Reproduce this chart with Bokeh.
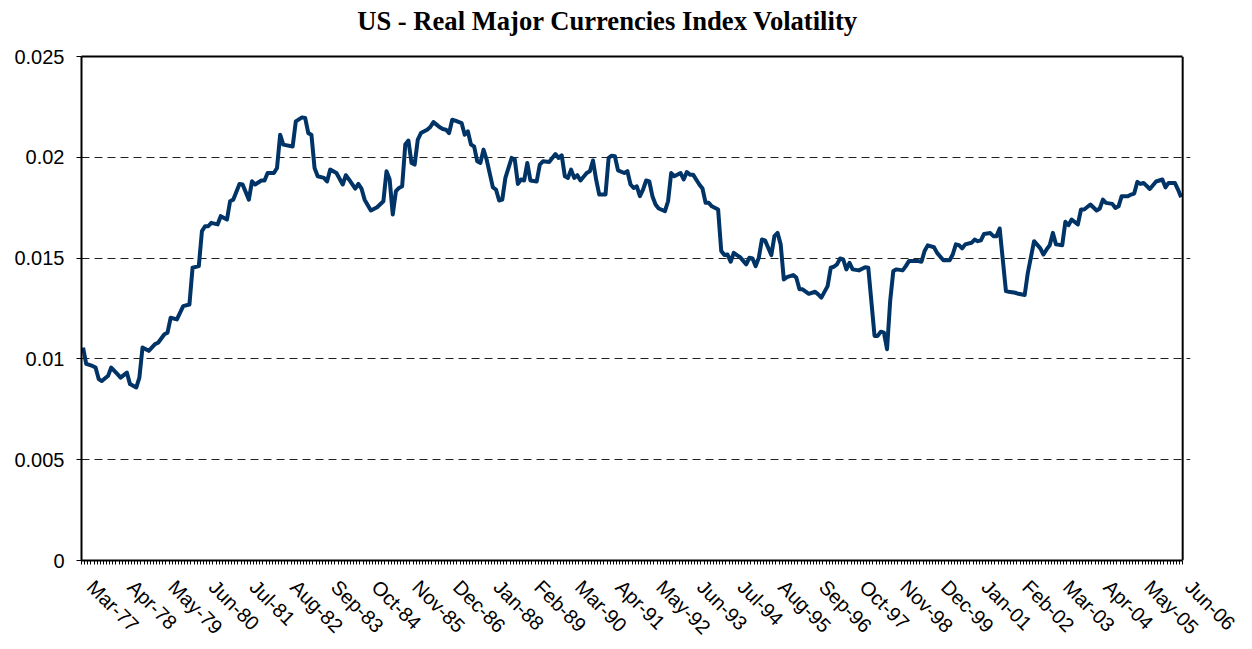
import math
from bokeh.plotting import figure
from bokeh.models import FixedTicker, Range1d, Title, LinearAxis, Span
from bokeh.embed import file_html
from bokeh.resources import INLINE

# ---- data (month index 0 = Mar-77, monthly up to Jun-06) ----
n_months = 352
month_idx = [0, 1, 3, 4, 5, 6, 8, 9, 11, 12, 14, 15, 17, 18, 19, 21, 23, 24, 26, 27,
             28, 30, 32, 34, 35, 37, 38, 39, 40, 41, 43, 44, 46, 47, 48, 50, 51, 53, 54, 55,
             57, 58, 59, 61, 62, 63, 64, 67, 68, 70, 71, 72, 73, 74, 75, 77, 78, 79, 81, 83,
             84, 85, 87, 88, 89, 90, 92, 94, 96, 97, 98, 99, 100, 101, 102, 103, 104, 105, 106, 107,
             108, 110, 111, 112, 113, 114, 115, 116, 117, 118, 119, 121, 122, 123, 124, 125, 126, 127, 128, 129,
             131, 132, 133, 134, 135, 137, 138, 139, 140, 141, 142, 143, 145, 146, 147, 149, 151, 152, 153, 154,
             155, 156, 157, 158, 159, 161, 162, 163, 164, 165, 167, 168, 169, 170, 171, 173, 174, 175, 176, 177,
             178, 179, 180, 181, 182, 183, 184, 186, 187, 188, 189, 191, 192, 193, 194, 195, 197, 198, 199, 200,
             201, 203, 204, 205, 206, 207, 208, 209, 210, 212, 213, 214, 215, 216, 217, 218, 220, 221, 222, 223,
             224, 225, 227, 228, 229, 230, 232, 234, 235, 236, 238, 239, 240, 241, 242, 243, 244, 245, 246, 248,
             250, 251, 253, 254, 255, 256, 257, 258, 259, 260, 262, 263, 264, 267, 268, 269, 270, 272, 273, 275,
             277, 278, 279, 280, 281, 282, 284, 285, 286, 287, 288, 290, 291, 292, 293, 295, 296, 298, 299, 301,
             302, 304, 306, 307, 308, 309, 310, 311, 313, 314, 315, 316, 318, 319, 320, 322, 324, 325, 326, 327,
             329, 330, 331, 332, 334, 335, 336, 337, 338, 339, 341, 343, 345, 346, 347, 349, 350, 351]
volatility = [0.01056, 0.00975, 0.00965, 0.00957, 0.00900, 0.00890, 0.00916, 0.00957, 0.00924, 0.00907,
              0.00932, 0.00875, 0.00858, 0.00907, 0.01056, 0.01040, 0.01073, 0.01080, 0.01122, 0.01130,
              0.01204, 0.01196, 0.01262, 0.01270, 0.01452, 0.01460, 0.01634, 0.01658, 0.01658, 0.01675,
              0.01667, 0.01708, 0.01691, 0.01782, 0.01790, 0.01868, 0.01865, 0.01790, 0.01881, 0.01865,
              0.01885, 0.01885, 0.01922, 0.01922, 0.01947, 0.02112, 0.02063, 0.02054, 0.02178, 0.02198,
              0.02195, 0.02120, 0.02112, 0.01947, 0.01906, 0.01898, 0.01880, 0.01939, 0.01922, 0.01865,
              0.01911, 0.01890, 0.01845, 0.01868, 0.01845, 0.01790, 0.01736, 0.01752, 0.01782, 0.01931,
              0.01890, 0.01716, 0.01832, 0.01848, 0.01856, 0.02063, 0.02083, 0.01972, 0.01964, 0.02088,
              0.02120, 0.02137, 0.02150, 0.02175, 0.02162, 0.02149, 0.02140, 0.02137, 0.02120, 0.02186,
              0.02182, 0.02170, 0.02112, 0.02129, 0.02063, 0.02054, 0.01980, 0.01972, 0.02038, 0.01989,
              0.01851, 0.01840, 0.01786, 0.01790, 0.01898, 0.01997, 0.01989, 0.01868, 0.01890, 0.01885,
              0.01972, 0.01885, 0.01880, 0.01964, 0.01980, 0.01977, 0.02016, 0.01997, 0.02010, 0.01906,
              0.01898, 0.01939, 0.01898, 0.01911, 0.01885, 0.01922, 0.01931, 0.01984, 0.01890, 0.01815,
              0.01815, 0.01997, 0.02008, 0.02005, 0.01935, 0.01922, 0.01931, 0.01865, 0.01848, 0.01856,
              0.01807, 0.01840, 0.01885, 0.01880, 0.01807, 0.01766, 0.01746, 0.01733, 0.01782, 0.01922,
              0.01906, 0.01922, 0.01890, 0.01927, 0.01914, 0.01914, 0.01865, 0.01845, 0.01774, 0.01774,
              0.01757, 0.01741, 0.01535, 0.01515, 0.01518, 0.01482, 0.01526, 0.01515, 0.01505, 0.01469,
              0.01502, 0.01498, 0.01460, 0.01502, 0.01592, 0.01588, 0.01515, 0.01609, 0.01625, 0.01568,
              0.01394, 0.01406, 0.01416, 0.01403, 0.01345, 0.01345, 0.01323, 0.01333, 0.01320, 0.01304,
              0.01361, 0.01452, 0.01457, 0.01469, 0.01498, 0.01493, 0.01444, 0.01477, 0.01444, 0.01439,
              0.01455, 0.01452, 0.01114, 0.01114, 0.01135, 0.01130, 0.01048, 0.01287, 0.01436, 0.01444,
              0.01439, 0.01460, 0.01485, 0.01485, 0.01482, 0.01535, 0.01563, 0.01554, 0.01526, 0.01489,
              0.01489, 0.01518, 0.01568, 0.01564, 0.01548, 0.01568, 0.01576, 0.01592, 0.01584, 0.01588,
              0.01620, 0.01624, 0.01609, 0.01609, 0.01647, 0.01337, 0.01333, 0.01328, 0.01323, 0.01317,
              0.01427, 0.01584, 0.01548, 0.01518, 0.01543, 0.01564, 0.01625, 0.01568, 0.01564, 0.01680,
              0.01663, 0.01691, 0.01667, 0.01741, 0.01741, 0.01766, 0.01736, 0.01746, 0.01790, 0.01774,
              0.01769, 0.01749, 0.01757, 0.01807, 0.01807, 0.01815, 0.01820, 0.01878, 0.01868, 0.01873,
              0.01843, 0.01880, 0.01890, 0.01851, 0.01873, 0.01873, 0.01840, 0.01802]

tick_labels = ["Mar-77", "Apr-78", "May-79", "Jun-80", "Jul-81", "Aug-82", "Sep-83",
               "Oct-84", "Nov-85", "Dec-86", "Jan-88", "Feb-89", "Mar-90", "Apr-91",
               "May-92", "Jun-93", "Jul-94", "Aug-95", "Sep-96", "Oct-97", "Nov-98",
               "Dec-99", "Jan-01", "Feb-02", "Mar-03", "Apr-04", "May-05", "Jun-06"]
label_step = 13
y_ticks = [0, 0.005, 0.01, 0.015, 0.02, 0.025]
y_tick_labels = ["0", "0.005", "0.01", "0.015", "0.02", "0.025"]

title_text = "US - Real Major Currencies Index Volatility"

# ---- figure ----
# the x range runs a little past the last month so that the last rotated
# label (which starts right of its month) is not culled; the visible plot box
# is drawn by axis lines / a span that stop at n_months
label_shift = 2.4
x_end = n_months + 2.5
p = figure(width=1244, height=649, output_backend="svg", toolbar_location=None,
           x_range=Range1d(0, x_end), y_range=Range1d(0, 0.025),
           min_border_left=81, min_border_right=54, min_border_top=56, min_border_bottom=89)

xb = p.xaxis[0]
yl = p.yaxis[0]

xs = [m + 0.5 for m in month_idx]
p.line(xs, volatility, line_color="#003366", line_width=4, line_join="round")

# bottom x axis: one small tick per month, a label every 13 months
label_pos = [i * label_step + 0.5 + label_shift for i in range(len(tick_labels))]
xb.ticker = FixedTicker(ticks=label_pos, minor_ticks=list(range(n_months + 1)))
xb.bounds = (0, n_months)
xb.major_label_overrides = {pos: lab for pos, lab in zip(label_pos, tick_labels)}
xb.major_label_orientation = -math.pi / 4
xb.major_tick_line_color = None
xb.major_tick_out = 0
xb.major_tick_in = 0
xb.minor_tick_line_color = "black"
xb.minor_tick_out = 4
xb.minor_tick_in = 0
xb.major_label_standoff = 19
xb.axis_line_color = "black"
xb.axis_line_width = 2

# y axis
yl.ticker = FixedTicker(ticks=y_ticks, minor_ticks=[])
yl.major_label_overrides = {t: s for t, s in zip(y_ticks, y_tick_labels)}
yl.major_tick_out = 5
yl.major_tick_in = 0
yl.major_tick_line_color = "black"
yl.minor_tick_line_color = None
yl.major_label_standoff = 12
yl.axis_line_color = "black"
yl.axis_line_width = 2

for ax in (xb, yl):
    ax.major_label_text_font = "Liberation Sans"
    ax.major_label_text_font_size = "20px"
    ax.major_label_text_color = "black"

p.xgrid.grid_line_color = None
p.ygrid.grid_line_color = "#222222"
p.ygrid.grid_line_dash = "8 5"
p.ygrid.grid_line_width = 1
p.ygrid.bounds = (0, n_months)

# top border of the plot box (closest to the frame)
top_axis = LinearAxis(ticker=FixedTicker(ticks=[], minor_ticks=[]), bounds=(0, n_months),
                      axis_line_color="black", axis_line_width=2,
                      major_tick_line_color=None, minor_tick_line_color=None,
                      major_tick_out=0, major_tick_in=0, minor_tick_out=0, minor_tick_in=0,
                      major_label_standoff=0, major_label_text_font_size="0px")
p.add_layout(top_axis, "above")

# right border of the plot box
p.add_layout(Span(location=n_months, dimension="height", line_color="black", line_width=2))

# spacer between the box and the title, then the title itself
spacer = Title(text=" ", text_font="Liberation Sans", text_font_size="12px", standoff=5)
p.add_layout(spacer, "above")
main_title = Title(text=title_text, text_font="Liberation Serif", text_font_style="bold",
                   text_font_size="26.6px", text_color="black", align="left",
                   offset=275.7, standoff=0)
p.add_layout(main_title, "above")

p.outline_line_color = None
p.background_fill_color = "white"
p.border_fill_color = "white"

open("out.html", "w").write(file_html(p, INLINE))
